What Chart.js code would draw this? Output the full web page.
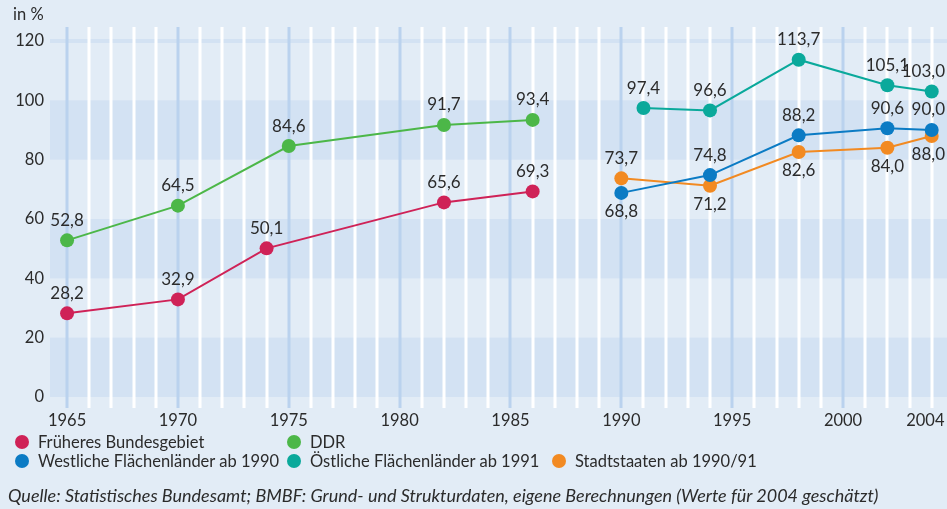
<!DOCTYPE html>
<html lang="de">
<head>
<meta charset="utf-8">
<script src="https://cdn.jsdelivr.net/npm/chart.js@4/dist/chart.umd.min.js"></script>
<style>
  body { margin: 0; background: #e2ecf6; }
  #wrap { position: relative; width: 947px; height: 509px; background: #e2ecf6; font-family: Lato, "Noto Sans", sans-serif; color: #2b2b2b; overflow: hidden; }
  #chart { position: absolute; left: 0; top: 0; }
  .unit { position: absolute; left: 13px; top: 4px; font-size: 16.5px; }
  .leg { position: absolute; font-size: 16.5px; line-height: 20px; white-space: nowrap; }
  .leg i { position: absolute; left: -23px; top: 3px; width: 14px; height: 14px; border-radius: 50%; }
  .src { position: absolute; left: 8px; top: 484px; font-size: 18px; font-style: italic; white-space: nowrap; }
</style>
</head>
<body>
<div id="wrap">
  <canvas id="chart" width="947" height="509"></canvas>
  <div class="unit">in %</div>
  <div class="leg" style="left:38px;top:432px"><i style="background:#cf2257"></i>Früheres Bundesgebiet</div>
  <div class="leg" style="left:310px;top:432px"><i style="background:#4cb748"></i>DDR</div>
  <div class="leg" style="left:38px;top:451px"><i style="background:#0b7bc4"></i>Westliche Flächenländer ab 1990</div>
  <div class="leg" style="left:310px;top:451px"><i style="background:#0aa99b"></i>Östliche Flächenländer ab 1991</div>
  <div class="leg" style="left:575px;top:451px"><i style="background:#f28a22"></i>Stadtstaaten ab 1990/91</div>
  <div class="src">Quelle: Statistisches Bundesamt; BMBF: Grund- und Strukturdaten, eigene Berechnungen (Werte für 2004 geschätzt)</div>
</div>
<script>
// Studienberechtigtenquote / Werte in %
const fruehYears = [1965, 1970, 1974, 1982, 1986];
const fruehValues = [28.2, 32.9, 50.1, 65.6, 69.3];

const ddrYears = [1965, 1970, 1975, 1982, 1986];
const ddrValues = [52.8, 64.5, 84.6, 91.7, 93.4];

const westYears = [1990, 1994, 1998, 2002, 2004];
const westValues = [68.8, 74.8, 88.2, 90.6, 90.0];

const ostYears = [1991, 1994, 1998, 2002, 2004];
const ostValues = [97.4, 96.6, 113.7, 105.1, 103.0];

const stadtYears = [1990, 1994, 1998, 2002, 2004];
const stadtValues = [73.7, 71.2, 82.6, 84.0, 88.0];

const xTicks = [1965, 1970, 1975, 1980, 1985, 1990, 1995, 2000, 2004];
const yTicks = [0, 20, 40, 60, 80, 100, 120];

// label above (-1) or below (+1) the point
const labelSide = [
  [-1, -1, -1, -1, -1],
  [-1, -1, -1, -1, -1],
  [1, -1, -1, -1, -1],
  [-1, -1, -1, -1, -1],
  [-1, 1, 1, 1, 1]
];

const textColor = '#2b2b2b';
const fontFamily = 'Lato, "Noto Sans", sans-serif';

function toPoints(years, values) {
  return years.map((y, i) => ({ x: y, y: values[i] }));
}

function makeSet(label, years, values, color) {
  return {
    label: label,
    data: toPoints(years, values),
    borderColor: color,
    backgroundColor: color,
    borderWidth: 2,
    pointRadius: 7,
    pointHoverRadius: 7,
    pointBorderWidth: 0,
    tension: 0
  };
}

function formatValue(v) {
  return v.toFixed(1).replace('.', ',');
}

const backgroundPlugin = {
  id: 'bands',
  beforeDatasetsDraw(chart) {
    const { ctx, chartArea, scales } = chart;
    const y = scales.y, x = scales.x;
    const right = chart.width;
    ctx.save();
    ctx.fillStyle = '#d3e2f3';
    [[0, 20], [40, 60], [80, 100]].forEach(b => {
      const top = y.getPixelForValue(b[1]);
      const bottom = y.getPixelForValue(b[0]);
      ctx.fillRect(chartArea.left, top, right - chartArea.left, bottom - top);
    });
    const y120 = y.getPixelForValue(120);
    ctx.fillRect(chartArea.left, y120 - 2, right - chartArea.left, 4);

    for (let yr = 1965; yr <= 2004; yr++) {
      const px = Math.round(x.getPixelForValue(yr));
      ctx.fillStyle = yr % 5 === 0 ? '#bad2ee' : '#ffffff';
      ctx.fillRect(px - 1.5, chartArea.top - 14, 3, chartArea.bottom - chartArea.top + 25);
    }
    ctx.restore();
  }
};

const labelPlugin = {
  id: 'valueLabels',
  afterDatasetsDraw(chart) {
    const { ctx } = chart;
    ctx.save();
    ctx.font = '17px ' + fontFamily;
    ctx.fillStyle = textColor;
    ctx.textAlign = 'center';
    ctx.textBaseline = 'middle';
    chart.data.datasets.forEach((ds, di) => {
      const meta = chart.getDatasetMeta(di);
      meta.data.forEach((pt, i) => {
        const txt = formatValue(ds.data[i].y);
        const half = ctx.measureText(txt).width / 2;
        const cx = Math.min(pt.x, chart.width - 2 - half);
        const off = labelSide[di][i] < 0 ? -20 : 19;
        ctx.fillText(txt, cx, pt.y + off);
      });
    });
    ctx.restore();
  }
};

new Chart(document.getElementById('chart'), {
  type: 'line',
  data: {
    datasets: [
      makeSet('Früheres Bundesgebiet', fruehYears, fruehValues, '#cf2257'),
      makeSet('DDR', ddrYears, ddrValues, '#4cb748'),
      makeSet('Westliche Flächenländer ab 1990', westYears, westValues, '#0b7bc4'),
      makeSet('Östliche Flächenländer ab 1991', ostYears, ostValues, '#0aa99b'),
      makeSet('Stadtstaaten ab 1990/91', stadtYears, stadtValues, '#f28a22')
    ]
  },
  options: {
    responsive: false,
    animation: false,
    layout: { autoPadding: false, padding: { top: 41, left: 0, right: 0, bottom: 0 } },
    plugins: {
      legend: { display: false },
      tooltip: { enabled: false }
    },
    scales: {
      x: {
        type: 'linear',
        min: 1964.23,
        max: 2004.69,
        grid: { display: false, drawTicks: false },
        border: { display: false },
        afterBuildTicks(scale) {
          scale.ticks = xTicks.map(v => ({ value: v }));
        },
        afterFit(scale) {
          scale.height = 112;
          scale.paddingLeft = 0;
          scale.paddingRight = 0;
        },
        ticks: {
          color: textColor,
          font: { size: 16.5, family: fontFamily },
          padding: 14,
          maxRotation: 0,
          autoSkip: false,
          // trailing spaces keep the last label inside the canvas
          callback: v => v === 2004 ? '2004   ' : String(v)
        }
      },
      y: {
        min: 0,
        max: 120,
        grid: { display: false, drawTicks: false },
        border: { display: false },
        afterBuildTicks(scale) {
          scale.ticks = yTicks.map(v => ({ value: v }));
        },
        afterFit(scale) {
          scale.width = 50;
          scale.paddingTop = 0;
          scale.paddingBottom = 0;
        },
        ticks: {
          color: textColor,
          font: { size: 16.5, family: fontFamily },
          padding: 6
        }
      }
    }
  },
  plugins: [backgroundPlugin, labelPlugin]
});
</script>
</body>
</html>
